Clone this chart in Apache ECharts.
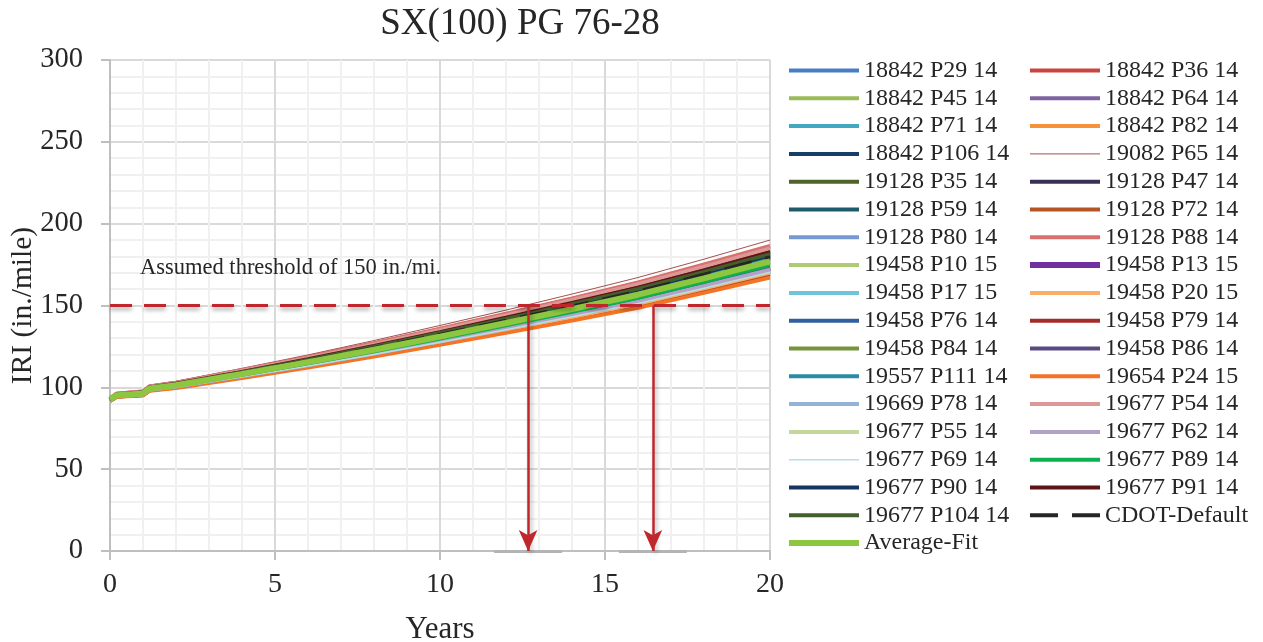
<!DOCTYPE html>
<html>
<head>
<meta charset="utf-8">
<script src="https://cdn.jsdelivr.net/npm/echarts@6/dist/echarts.min.js"></script>
<style>
  html, body { margin: 0; padding: 0; background: #fff; }
  #chart { width: 1263px; height: 642px; }
</style>
</head>
<body>
<div id="chart"></div>
<script>
var years = [0, 0.2, 1, 1.2, 2, 4, 6, 8, 10, 12, 14, 16, 18, 20];

// predicted IRI (in./mile) per section
var s18842P29 = [93.2, 96.0, 97.3, 100.4, 102.6, 110.0, 117.8, 126.0, 134.6, 143.6, 152.8, 162.3, 172.9, 184.0];
var s18842P36 = [93.4, 96.2, 97.6, 100.7, 102.9, 110.5, 118.5, 126.9, 135.7, 144.8, 154.2, 163.9, 174.7, 186.0];
var s18842P45 = [92.4, 95.1, 96.2, 99.2, 101.2, 108.1, 115.2, 122.8, 130.7, 139.0, 147.4, 156.2, 166.1, 176.5];
var s18842P64 = [92.0, 94.7, 95.7, 98.6, 100.5, 107.0, 113.9, 121.1, 128.7, 136.6, 144.6, 153.0, 162.5, 172.5];
var s18842P71 = [91.9, 94.5, 95.5, 98.4, 100.2, 106.6, 113.4, 120.4, 127.9, 135.6, 143.5, 151.7, 161.2, 171.0];
var s18842P82 = [91.6, 94.3, 95.1, 98.0, 99.8, 106.0, 112.5, 119.3, 126.6, 134.1, 141.8, 149.7, 158.9, 168.5];
var s18842P106 = [92.9, 95.6, 96.9, 99.9, 102.0, 109.2, 116.8, 124.7, 133.1, 141.7, 150.6, 159.8, 170.2, 181.0];
var s19082P65 = [93.8, 96.6, 98.1, 101.3, 103.6, 111.6, 119.8, 128.6, 137.8, 147.2, 157.0, 167.1, 178.3, 190.0];
var s19128P35 = [93.0, 95.8, 97.0, 100.1, 102.2, 109.5, 117.1, 125.2, 133.6, 142.4, 151.4, 160.7, 171.1, 182.0];
var s19128P47 = [92.8, 95.5, 96.7, 99.8, 101.8, 109.0, 116.4, 124.3, 132.6, 141.1, 149.9, 159.0, 169.3, 180.0];
var s19128P59 = [92.7, 95.4, 96.6, 99.6, 101.7, 108.7, 116.1, 123.9, 132.0, 140.5, 149.2, 158.2, 168.4, 179.0];
var s19128P72 = [91.7, 94.3, 95.2, 98.1, 99.9, 106.1, 112.7, 119.6, 126.8, 134.4, 142.1, 150.1, 159.4, 169.0];
var s19128P80 = [91.9, 94.6, 95.5, 98.5, 100.3, 106.8, 113.5, 120.6, 128.1, 135.9, 143.9, 152.1, 161.6, 171.5];
var s19128P88 = [93.5, 96.2, 97.6, 100.7, 103.0, 110.7, 118.6, 127.1, 135.9, 145.1, 154.5, 164.3, 175.2, 186.5];
var s19458P10 = [92.4, 95.1, 96.2, 99.1, 101.1, 107.9, 115.1, 122.6, 130.5, 138.7, 147.1, 155.8, 165.7, 176.0];
var s19458P13 = [92.1, 94.8, 95.7, 98.7, 100.6, 107.2, 114.0, 121.3, 128.9, 136.9, 145.0, 153.4, 163.0, 173.0];
var s19458P17 = [91.8, 94.5, 95.4, 98.3, 100.1, 106.5, 113.2, 120.2, 127.6, 135.3, 143.2, 151.3, 160.7, 170.5];
var s19458P20 = [91.8, 94.4, 95.3, 98.2, 100.0, 106.4, 113.0, 120.0, 127.4, 135.0, 142.8, 150.9, 160.3, 170.0];
var s19458P76 = [93.2, 95.9, 97.2, 100.3, 102.5, 109.9, 117.6, 125.8, 134.4, 143.3, 152.4, 161.9, 172.5, 183.5];
var s19458P79 = [93.1, 95.9, 97.1, 100.2, 102.4, 109.8, 117.4, 125.6, 134.1, 143.0, 152.1, 161.5, 172.0, 183.0];
var s19458P84 = [92.6, 95.3, 96.4, 99.5, 101.5, 108.5, 115.7, 123.4, 131.5, 139.9, 148.5, 157.4, 167.5, 178.0];
var s19458P86 = [92.1, 94.8, 95.8, 98.7, 100.6, 107.3, 114.1, 121.4, 129.0, 137.0, 145.1, 153.5, 163.1, 173.2];
var s19557P111 = [92.7, 95.4, 96.5, 99.5, 101.6, 108.6, 115.9, 123.6, 131.8, 140.2, 148.9, 157.8, 168.0, 178.5];
var s19654P24 = [91.5, 94.1, 94.9, 97.8, 99.5, 105.6, 112.0, 118.7, 125.8, 133.2, 140.7, 148.5, 157.6, 167.0];
var s19669P78 = [91.9, 94.6, 95.5, 98.4, 100.3, 106.7, 113.4, 120.5, 128.0, 135.8, 143.8, 152.0, 161.5, 171.4];
var s19677P54 = [93.3, 96.1, 97.4, 100.5, 102.7, 110.3, 118.1, 126.4, 135.2, 144.2, 153.5, 163.1, 173.8, 185.0];
var s19677P55 = [92.3, 95.0, 96.1, 99.1, 101.0, 107.8, 114.9, 122.4, 130.2, 138.4, 146.7, 155.4, 165.2, 175.5];
var s19677P62 = [92.0, 94.6, 95.6, 98.5, 100.4, 106.9, 113.7, 120.8, 128.4, 136.2, 144.2, 152.5, 162.1, 172.0];
var s19677P69 = [91.8, 94.4, 95.4, 98.3, 100.1, 106.4, 113.1, 120.1, 127.5, 135.2, 143.1, 151.2, 160.6, 170.3];
var s19677P89 = [92.2, 94.9, 95.9, 98.9, 100.8, 107.5, 114.5, 121.9, 129.7, 137.8, 146.0, 154.6, 164.3, 174.5];
var s19677P90 = [92.9, 95.6, 96.8, 99.8, 101.9, 109.1, 116.6, 124.5, 132.8, 141.4, 150.3, 159.4, 169.8, 180.5];
var s19677P91 = [93.1, 95.8, 97.1, 100.1, 102.3, 109.6, 117.3, 125.4, 133.9, 142.7, 151.7, 161.1, 171.6, 182.5];
var s19677P104 = [93.0, 95.7, 96.9, 100.0, 102.1, 109.4, 116.9, 124.9, 133.3, 142.0, 151.0, 160.2, 170.7, 181.5];
var cdotDefault = [92.6, 95.3, 96.6, 99.7, 101.8, 108.9, 116.3, 124.1, 132.3, 140.8, 149.6, 158.7, 168.9, 179.5];
var averageFit = [92.5, 95.2, 96.3, 99.3, 101.3, 108.2, 115.4, 123.0, 131.0, 139.3, 147.8, 156.6, 166.6, 177.0];

// threshold and the years where the curves cross it (arrows)
var threshold = 150;
var crossYears = [12.67, 16.45];

// name, values, colour, line width, dashed
var sections = [
  ['18842 P29 14', s18842P29, '#4A7EC2', 3.5],
  ['18842 P36 14', s18842P36, '#C9453F', 3.5],
  ['18842 P45 14', s18842P45, '#9BBB59', 3.5],
  ['18842 P64 14', s18842P64, '#8064A2', 3.5],
  ['18842 P71 14', s18842P71, '#43A7C0', 3.5],
  ['18842 P82 14', s18842P82, '#F7923A', 3.5],
  ['18842 P106 14', s18842P106, '#173D69', 3.5],
  ['19082 P65 14', s19082P65, '#A0524F', 1],
  ['19128 P35 14', s19128P35, '#4F6228', 3.5],
  ['19128 P47 14', s19128P47, '#3B2F55', 3.5],
  ['19128 P59 14', s19128P59, '#1D5B6B', 3.5],
  ['19128 P72 14', s19128P72, '#B55524', 3.5],
  ['19128 P80 14', s19128P80, '#7699D4', 3.5],
  ['19128 P88 14', s19128P88, '#D9706E', 3.5],
  ['19458 P10 15', s19458P10, '#AFCB76', 3.5],
  ['19458 P13 15', s19458P13, '#7030A0', 5.5],
  ['19458 P17 15', s19458P17, '#70C4D9', 3.5],
  ['19458 P20 15', s19458P20, '#F9AE6A', 3.5],
  ['19458 P76 14', s19458P76, '#2F5F9F', 3.5],
  ['19458 P79 14', s19458P79, '#A52A2A', 3.5],
  ['19458 P84 14', s19458P84, '#77933C', 3.5],
  ['19458 P86 14', s19458P86, '#5B4A82', 3.5],
  ['19557 P111 14', s19557P111, '#2A8BA6', 3.5],
  ['19654 P24 15', s19654P24, '#F47324', 3.5],
  ['19669 P78 14', s19669P78, '#95B3D7', 3.5],
  ['19677 P54 14', s19677P54, '#DB9896', 3.5],
  ['19677 P55 14', s19677P55, '#C3D69B', 3.5],
  ['19677 P62 14', s19677P62, '#B3A2C7', 3.5],
  ['19677 P69 14', s19677P69, '#B7DEE8', 1.5],
  ['19677 P89 14', s19677P89, '#0BB14F', 3.5],
  ['19677 P90 14', s19677P90, '#16355F', 3.5],
  ['19677 P91 14', s19677P91, '#5C1414', 3.5],
  ['19677 P104 14', s19677P104, '#435F2C', 3.5],
  ['CDOT-Default', cdotDefault, '#262626', 3.5, true],
  ['Average-Fit', averageFit, '#8DC63F', 6]
];

var serif = 'Liberation Serif';
var textColor = '#262626';
var red = '#C0272D';

var series = sections.map(function (s) {
  return {
    name: s[0],
    type: 'line',
    symbol: 'none',
    silent: true,
    color: s[2],
    lineStyle: { color: s[2], width: s[3], type: s[4] ? [28, 14] : 'solid' },
    data: years.map(function (t, i) { return [t, s[1][i]]; })
  };
});

// grey marks on the axis under each arrow
series.push({
  type: 'line',
  data: [],
  silent: true,
  markLine: {
    silent: true,
    symbol: 'none',
    label: { show: false },
    lineStyle: { color: '#B4B4B4', width: 3, type: 'solid' },
    data: crossYears.map(function (y) {
      return [{ coord: [y - 1.03, 0] }, { coord: [y + 1.03, 0] }];
    })
  }
});

// threshold line with the arrows dropping to the x axis
series.push({
  type: 'line',
  symbol: 'none',
  silent: true,
  lineStyle: {
    color: red, width: 3, type: [22, 12],
    shadowColor: 'rgba(0,0,0,0.35)', shadowBlur: 4, shadowOffsetY: 3
  },
  data: [[0, threshold], [20, threshold]],
  markLine: {
    silent: true,
    symbol: ['none', 'arrow'],
    symbolSize: [14, 21],
    label: { show: false },
    lineStyle: {
      color: red, width: 2.5, type: 'solid',
      shadowColor: 'rgba(0,0,0,0.3)', shadowBlur: 4, shadowOffsetX: 2, shadowOffsetY: 2
    },
    data: crossYears.map(function (y) {
      return [{ coord: [y, threshold] }, { coord: [y, 0] }];
    })
  }
});

// legend items, line width a bit heavier like the source
var legendItems = sections.map(function (s) {
  var w = s[3] < 3 ? s[3] : (s[3] > 5 ? 6 : 4);
  return { name: s[0], lineStyle: { width: w } };
});
var legendBase = {
  orient: 'vertical',
  top: 53.5,
  itemWidth: 70,
  itemHeight: 14,
  itemGap: 3.8,
  selectedMode: false,
  itemStyle: { opacity: 0 },
  textStyle: { fontFamily: serif, fontSize: 24, color: textColor }
};

var chart = echarts.init(document.getElementById('chart'));
chart.setOption({
  animation: false,
  backgroundColor: '#fff',
  title: {
    text: 'SX(100) PG 76-28',
    left: 515,
    textAlign: 'center',
    top: 1,
    textStyle: { fontFamily: serif, fontSize: 37, fontWeight: 'normal', color: textColor }
  },
  legend: [
    Object.assign({}, legendBase, { left: 781, data: legendItems.filter(function (n, i) { return i % 2 === 0; }) }),
    Object.assign({}, legendBase, { left: 1022, data: legendItems.filter(function (n, i) { return i % 2 === 1; }) })
  ],
  grid: { left: 110, right: 493, top: 60, bottom: 91, containLabel: false, outerBoundsMode: 'none' },
  xAxis: {
    type: 'value',
    min: 0,
    max: 20,
    interval: 5,
    name: 'Years',
    nameLocation: 'middle',
    nameGap: 63,
    nameTextStyle: { fontFamily: serif, fontSize: 31, color: textColor },
    axisLine: { lineStyle: { color: '#BFBFBF', width: 2 } },
    axisTick: { show: true, length: 9, lineStyle: { color: '#BFBFBF', width: 2 } },
    axisLabel: { fontFamily: serif, fontSize: 28, color: textColor, margin: 20 },
    splitLine: { show: true, lineStyle: { color: '#D9D9D9', width: 2 } },
    minorTick: { show: false, splitNumber: 5 },
    minorSplitLine: { show: true, lineStyle: { color: '#F0F0F0', width: 2 } }
  },
  yAxis: {
    type: 'value',
    min: 0,
    max: 300,
    interval: 50,
    name: 'IRI (in./mile)',
    nameLocation: 'middle',
    nameGap: 72,
    nameMoveOverlap: false,
    nameTextStyle: { fontFamily: serif, fontSize: 29.5, color: textColor },
    axisLine: { show: true, lineStyle: { color: '#BFBFBF', width: 2 } },
    axisTick: { show: true, length: 9, lineStyle: { color: '#BFBFBF', width: 2 } },
    axisLabel: { fontFamily: serif, fontSize: 28.5, color: textColor, margin: 27 },
    splitLine: { show: true, lineStyle: { color: '#D9D9D9', width: 2 } },
    minorTick: { show: false, splitNumber: 5 },
    minorSplitLine: { show: true, lineStyle: { color: '#F0F0F0', width: 2 } }
  },
  graphic: [{
    type: 'text',
    left: 140,
    top: 257,
    z: 100,
    silent: true,
    style: {
      text: 'Assumed threshold of 150 in./mi.',
      fontFamily: serif,
      fontSize: 22.5,
      fill: textColor
    }
  }],
  series: series
});
</script>
</body>
</html>
